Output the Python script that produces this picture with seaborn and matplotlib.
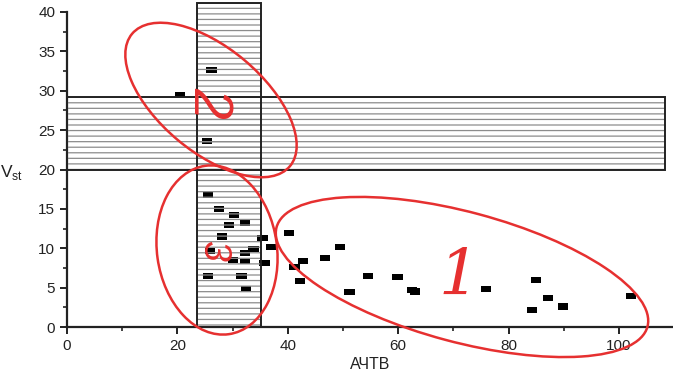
import matplotlib
matplotlib.use("Agg")
import matplotlib.pyplot as plt
import seaborn as sns
import pandas as pd
from matplotlib.patches import Rectangle, Ellipse

# data
achtv = [20.5, 26.2, 25.4, 25.6, 27.5, 30.3, 29.3, 32.2, 28.1, 35.4, 33.8, 37.0,
         25.9, 32.2, 30.1, 32.2, 35.8, 25.5, 31.6, 32.4, 40.2, 41.2, 42.7, 42.2,
         46.8, 49.5, 51.2, 54.5, 59.9, 62.5, 63.1, 75.9, 84.3, 85.0, 87.1, 89.9, 102.2]
vst = [29.5, 32.6, 23.6, 16.8, 15.0, 14.2, 13.0, 13.2, 11.5, 11.3, 9.9, 10.2,
       9.7, 9.4, 8.5, 8.4, 8.1, 6.5, 6.5, 4.8, 11.9, 7.6, 8.4, 5.8,
       8.8, 10.2, 4.4, 6.5, 6.3, 4.7, 4.5, 4.8, 2.2, 6.0, 3.7, 2.6, 3.9]

# shaded zones (x range, y range)
zone_v = (23.6, 35.2, 0, 41.2)
zone_h = (0, 108.4, 20, 29.2)

# hand-drawn red groups
group_labels = ["1", "2", "3"]

df = pd.DataFrame({"АЧТВ": achtv, "Vst": vst})

sns.set_style("ticks")
plt.rcParams["font.family"] = ["Liberation Sans", "DejaVu Sans"]
plt.rcParams["hatch.linewidth"] = 0.9

fig = plt.figure(figsize=(6.73, 3.76), dpi=100)
ax = fig.add_axes([0.0996, 0.1303, 0.902, 0.8378])

rect_marker = [(-1, -0.6), (1, -0.6), (1, 0.6), (-1, 0.6), (-1, -0.6)]
sns.scatterplot(data=df, x="АЧТВ", y="Vst", marker=rect_marker, s=55,
                color="black", edgecolor="none", ax=ax, zorder=2)

for x0, x1, y0, y1 in [zone_h, zone_v]:
    ax.add_patch(Rectangle((x0, y0), x1 - x0, y1 - y0, facecolor="none",
                           edgecolor="#8c8c8c", linewidth=0, hatch="---",
                           zorder=3, clip_on=False))
for x0, x1, y0, y1 in [zone_h, zone_v]:
    ax.add_patch(Rectangle((x0, y0), x1 - x0, y1 - y0, fill=False,
                           edgecolor="#222222", linewidth=1.4,
                           zorder=4, clip_on=False))

ax.set_xlim(0, 110)
ax.set_ylim(0, 40)
ax.set_xticks(range(0, 101, 20))
ax.set_xticks(range(10, 111, 20), minor=True)
ax.set_yticks(range(0, 41, 5))
ax.set_yticks([i + 2.5 for i in range(0, 40, 5)], minor=True)
ax.tick_params(axis="both", which="major", length=5, width=1.4, labelsize=11,
               direction="out", colors="#222222", labelcolor="#222222")
ax.tick_params(axis="both", which="minor", length=3, width=1.2,
               direction="out", colors="#222222")
for side in ["left", "bottom"]:
    ax.spines[side].set_linewidth(1.6)
    ax.spines[side].set_color("#222222")
sns.despine(ax=ax)

ax.set_xlabel("АЧТВ", fontsize=11.5, color="#222222", labelpad=3)
ax.set_ylabel("")
fig.text(12 / 673, 1 - 173 / 376, r"V$_{\mathregular{st}}$", fontsize=12.5,
         color="#222222", ha="center", va="center")

# red annotations, given in picture pixels (top-left origin)
def px(x, y):
    return x / 100, (376 - y) / 100

red = "#e63030"
ellipses = [((462, 277), 384, 130, -15), ((211, 100), 206, 104, -40),
            ((217, 250), 120, 170, 8)]
for (cx, cy), w, h, ang in ellipses:
    fig.add_artist(Ellipse(px(cx, cy), w / 100, h / 100, angle=ang,
                           transform=fig.dpi_scale_trans, fill=False,
                           edgecolor=red, linewidth=1.8, zorder=5))

label_style = [((459, 278), 46, 0, "DejaVu Serif"),
               ((208, 102), 40, -90, "Liberation Sans"),
               ((213, 250), 27, -90, "Liberation Sans")]
for lab, ((cx, cy), size, rot, fam) in zip(group_labels, label_style):
    fig.text(cx / 673, 1 - cy / 376, lab, fontsize=size, color=red,
             fontstyle="italic", rotation=rot, ha="center", va="center",
             family=[fam], zorder=6)

fig.savefig("out.png", dpi=100)
